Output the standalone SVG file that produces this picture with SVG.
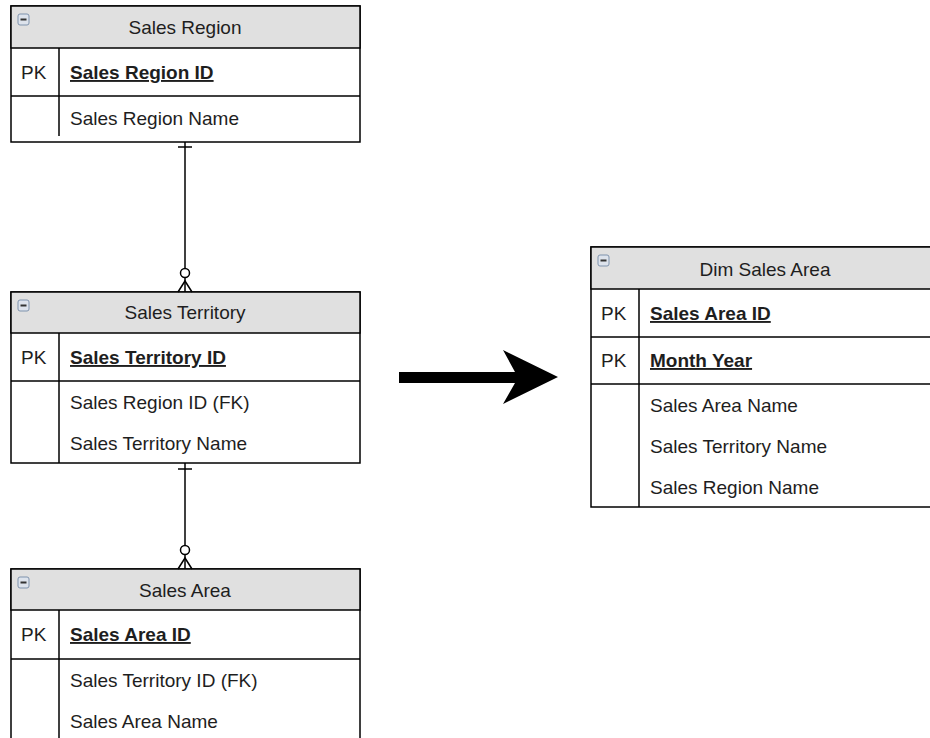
<svg xmlns="http://www.w3.org/2000/svg" width="930" height="738" viewBox="0 0 930 738">
<defs>
<style>
.box{fill:#ffffff;stroke:#000;stroke-width:1.5}
.hdr{fill:#e0e0e0;stroke:#000;stroke-width:1.5}
.ln{stroke:#000;stroke-width:1.5;fill:none}
.t{font-family:"Liberation Sans",Arial,sans-serif;font-size:19px;fill:#1e1e1e}
.h{text-anchor:middle}
.b{font-weight:bold;text-decoration:underline}
.ico{fill:#dde3ec;stroke:#7f93ad;stroke-width:1}
.icm{stroke:#333;stroke-width:2}
.cn{stroke:#000;stroke-width:1.5;fill:none}
</style>
<g id="icon">
<rect class="ico" x="0" y="0" width="11" height="11" rx="2"/>
<line class="icm" x1="2.5" y1="5.5" x2="8.5" y2="5.5"/>
</g>
</defs>
<rect width="930" height="738" fill="#ffffff"/>

<g id="sales-region">
<rect class="box" x="11" y="6" width="349" height="136"/>
<rect class="hdr" x="11" y="6" width="349" height="42"/>
<use href="#icon" x="18" y="14"/>
<text class="t h" x="185" y="34">Sales Region</text>
<line class="ln" x1="11" y1="96" x2="360" y2="96"/>
<line class="ln" x1="59" y1="48" x2="59" y2="136"/>
<text class="t" x="21" y="79">PK</text>
<text class="t b" x="70" y="79">Sales Region ID</text>
<text class="t" x="70" y="125">Sales Region Name</text>
</g>

<g id="sales-territory">
<rect class="box" x="11" y="292" width="349" height="171"/>
<rect class="hdr" x="11" y="292" width="349" height="41"/>
<use href="#icon" x="18" y="300"/>
<text class="t h" x="185" y="319">Sales Territory</text>
<line class="ln" x1="11" y1="381" x2="360" y2="381"/>
<line class="ln" x1="59" y1="333" x2="59" y2="463"/>
<text class="t" x="21" y="364">PK</text>
<text class="t b" x="70" y="364">Sales Territory ID</text>
<text class="t" x="70" y="409">Sales Region ID (FK)</text>
<text class="t" x="70" y="450">Sales Territory Name</text>
</g>

<g id="sales-area">
<rect class="box" x="11" y="569" width="349" height="190"/>
<rect class="hdr" x="11" y="569" width="349" height="41"/>
<use href="#icon" x="18" y="577"/>
<text class="t h" x="185" y="597">Sales Area</text>
<line class="ln" x1="11" y1="659" x2="360" y2="659"/>
<line class="ln" x1="59" y1="610" x2="59" y2="759"/>
<text class="t" x="21" y="641">PK</text>
<text class="t b" x="70" y="641">Sales Area ID</text>
<text class="t" x="70" y="687">Sales Territory ID (FK)</text>
<text class="t" x="70" y="728">Sales Area Name</text>
</g>

<g id="dim-sales-area">
<rect class="box" x="591" y="247" width="349" height="260"/>
<rect class="hdr" x="591" y="247" width="349" height="42"/>
<use href="#icon" x="598" y="255"/>
<text class="t h" x="765" y="276">Dim Sales Area</text>
<line class="ln" x1="591" y1="337" x2="940" y2="337"/>
<line class="ln" x1="591" y1="384" x2="940" y2="384"/>
<line class="ln" x1="639" y1="289" x2="639" y2="507"/>
<text class="t" x="601" y="320">PK</text>
<text class="t b" x="650" y="320">Sales Area ID</text>
<text class="t" x="601" y="367">PK</text>
<text class="t b" x="650" y="367">Month Year</text>
<text class="t" x="650" y="412">Sales Area Name</text>
<text class="t" x="650" y="453">Sales Territory Name</text>
<text class="t" x="650" y="494">Sales Region Name</text>
</g>

<g id="connectors">
<g id="region-territory">
<line class="cn" x1="185" y1="142" x2="185" y2="268.5"/>
<line class="cn" x1="178" y1="147" x2="192" y2="147"/>
<circle class="cn" cx="185" cy="273" r="4.5" fill="#fff"/>
<line class="cn" x1="185" y1="277.5" x2="185" y2="292"/>
<polyline class="cn" points="178,292 185,281 192,292"/>
</g>
<g id="territory-area">
<line class="cn" x1="185" y1="463" x2="185" y2="545.5"/>
<line class="cn" x1="178" y1="469" x2="192" y2="469"/>
<circle class="cn" cx="185" cy="550" r="4.5" fill="#fff"/>
<line class="cn" x1="185" y1="554.5" x2="185" y2="569"/>
<polyline class="cn" points="178,569 185,558 192,569"/>
</g>
<polygon id="transform-arrow" points="399,372 515,372 503,350 558,377 503,404 515,383 399,383" fill="#000"/>
</g>
</svg>
